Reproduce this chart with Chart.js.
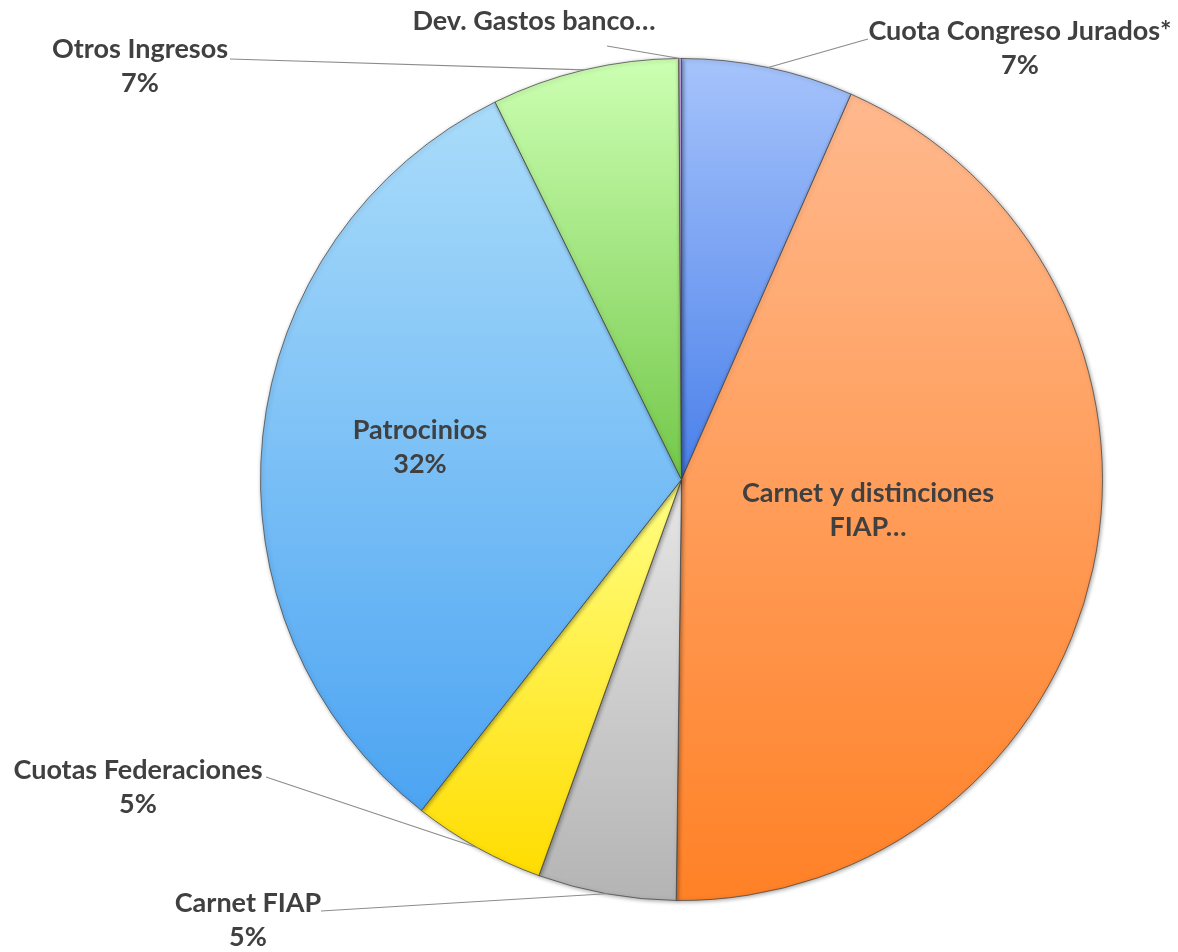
<!DOCTYPE html>
<html>
<head>
<meta charset="utf-8">
<script src="https://cdn.jsdelivr.net/npm/chart.js@4/dist/chart.umd.min.js"></script>
<style>
    html, body { margin: 0; padding: 0; background: #fff; }
    #wrap { width: 1178px; height: 952px; }
</style>
</head>
<body>
<div id="wrap"><canvas id="myChartPie"></canvas></div>
<script>
// categories and values (share of total, %)
const categories = ['Cuota Congreso Jurados*', 'Carnet y distinciones FIAP', 'Carnet FIAP',
    'Cuotas Federaciones', 'Patrocinios', 'Otros Ingresos', 'Dev. Gastos banco'];
const values = [6.6, 43.6, 5.3, 5.1, 32.1, 7.2, 0.1];
// label text as it shows on the chart (some are cut short)
const shownLabels = [['Cuota Congreso Jurados*'], ['Carnet y distinciones', 'FIAP…'], ['Carnet FIAP'],
    ['Cuotas Federaciones'], ['Patrocinios'], ['Otros Ingresos'], ['Dev. Gastos banco…']];
const showPercent = [true, false, true, true, true, true, false];

// gradient top / bottom colour of each slice
const topColors = ['#a6c3fb', '#ffb98e', '#e6e6e6', '#ffff84', '#aadcfa', '#ccffb2', '#c8a8e8'];
const bottomColors = ['#4a80ea', '#ff8126', '#b4b4b4', '#ffdd00', '#4ca4f2', '#74c84a', '#9070c0'];

// where each label sits: x centre, first baseline, and start of its leader line
const labelLayout = [
    { x: 1020, y: 40, lead: [868, 39] },
    { x: 868, y: 502 },
    { x: 248, y: 912, lead: [321, 911] },
    { x: 138, y: 779, lead: [266, 777] },
    { x: 420, y: 439 },
    { x: 140, y: 58, lead: [230, 59] },
    { x: 534, y: 30, lead: [607, 46] }
];

function sliceGradient(context) {
    const chart = context.chart
    const area = chart.chartArea
    const i = context.dataIndex
    if (!area || i === undefined) return topColors[i] || '#ccc'
    const cx = (area.left + area.right) / 2
    const cy = (area.top + area.bottom) / 2
    const r = Math.min(area.right - area.left, area.bottom - area.top) / 2
    const total = values.reduce((a, b) => a + b, 0)
    let before = 0
    for (let k = 0; k < i; k++) before += values[k]
    const a0 = before / total * Math.PI * 2
    const a1 = (before + values[i]) / total * Math.PI * 2
    let ys = [cy, cy - r * Math.cos(a0), cy - r * Math.cos(a1)]
    if (a0 <= 0.0001) ys.push(cy - r)
    if (a0 < Math.PI && a1 > Math.PI) ys.push(cy + r)
    const minY = Math.min(...ys), maxY = Math.max(...ys)
    const g = chart.ctx.createLinearGradient(0, minY, 0, maxY + 0.01)
    g.addColorStop(0, topColors[i])
    g.addColorStop(1, bottomColors[i])
    return g
}

const shadowPlugin = {
    id: 'shadowPlugin',
    beforeDatasetsDraw(chart) {
        const ctx = chart.ctx
        ctx.save()
        ctx.shadowColor = 'rgba(0,0,0,0.35)'
        ctx.shadowBlur = 4
        ctx.shadowOffsetX = 1
        ctx.shadowOffsetY = 1
    },
    afterDatasetsDraw(chart) {
        chart.ctx.restore()
    }
};

const labelPlugin = {
    id: 'labelPlugin',
    afterDraw(chart) {
        const ctx = chart.ctx
        const arcs = chart.getDatasetMeta(0).data
        const total = values.reduce((a, b) => a + b, 0)
        ctx.save()
        // leader lines
        ctx.strokeStyle = '#8c8c8c'
        ctx.lineWidth = 1.2
        labelLayout.forEach((lay, i) => {
            if (!lay.lead) return
            const arc = arcs[i]
            const mid = (arc.startAngle + arc.endAngle) / 2
            const ex = arc.x + Math.cos(mid) * arc.outerRadius
            const ey = arc.y + Math.sin(mid) * arc.outerRadius
            ctx.beginPath()
            ctx.moveTo(lay.lead[0], lay.lead[1])
            ctx.lineTo(ex, ey)
            ctx.stroke()
        })
        // texts
        ctx.fillStyle = '#404040'
        ctx.font = 'bold 27px Lato'
        ctx.textAlign = 'center'
        ctx.textBaseline = 'alphabetic'
        labelLayout.forEach((lay, i) => {
            let lines = shownLabels[i].slice()
            if (showPercent[i]) lines.push(Math.round(values[i] / total * 100) + '%')
            lines.forEach((t, j) => {
                ctx.fillText(t, lay.x, lay.y + j * 34)
            })
        })
        ctx.restore()
    }
};

function BuildPie() {
    var data = {
        labels: categories,
        datasets: [{
            data: values,
            backgroundColor: sliceGradient,
            borderColor: 'rgba(70,70,70,0.75)',
            borderWidth: 1
        }]
    };
    var ctx = document.getElementById('myChartPie');
    var myChart = new Chart(ctx, {
        type: 'pie',
        data: data,
        plugins: [shadowPlugin, labelPlugin],
        options: {
            responsive: true,
            maintainAspectRatio: false,
            animation: false,
            layout: {
                padding: { left: 260, right: 75, top: 58, bottom: 51 }
            },
            plugins: {
                legend: { display: false },
                tooltip: { enabled: false }
            }
        }
    });
    return myChart;
}

BuildPie();
</script>
</body>
</html>
